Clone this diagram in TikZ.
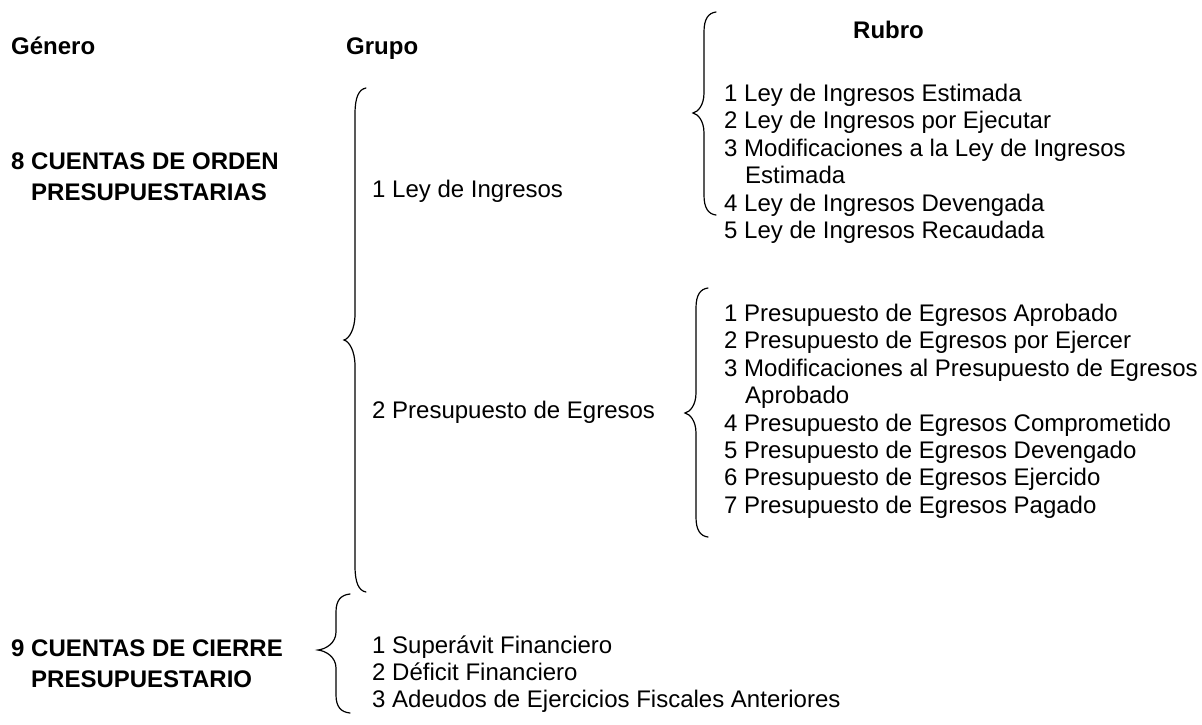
\documentclass[tikz,border=0pt]{standalone}
\usepackage{fontspec}
\setmainfont{Liberation Sans}
% #1 x of ends, #2 x of vertical line, #3 x of tip, #4 y top, #5 y tip, #6 y bottom, #7 hook length
\newcommand\mybrace[7]{%
  \draw[bracel] (#1,#4) .. controls ({#2+0.35*(#1-#2)},{#4+0.05*#7}) and (#2,{#4+0.35*#7}) .. (#2,{#4+#7})
    -- (#2,{#5-#7})
    .. controls (#2,{#5-0.4*#7}) and ({#3+0.45*(#2-#3)},{#5-0.05*#7}) .. (#3,#5)
    .. controls ({#3+0.45*(#2-#3)},{#5+0.05*#7}) and (#2,{#5+0.4*#7}) .. (#2,{#5+#7})
    -- (#2,{#6-#7})
    .. controls (#2,{#6-0.35*#7}) and ({#2+0.35*(#1-#2)},{#6-0.05*#7}) .. (#1,#6);}
\begin{document}
\begin{tikzpicture}[x=1pt,y=-1pt,
  bracel/.style={line width=1.2pt, black, line cap=round},
  txt/.style={anchor=base west, inner sep=0pt, font=\fontsize{24}{28}\selectfont},
  hdr/.style={anchor=base west, inner sep=0pt, font=\fontsize{24}{28}\selectfont\bfseries}]
\useasboundingbox[fill=white] (0,0) rectangle (1202,724);

% headers
\node[hdr] (genero) at (11,54.5) {Género};
\node[hdr] (grupo) at (346,54.5) {Grupo};
\node[hdr] (rubro) at (853,38.5) {Rubro};

% generos
\node[hdr] (g8a) at (11,169.5) {8 CUENTAS DE ORDEN};
\node[hdr] (g8b) at (31,200.5) {PRESUPUESTARIAS};
\node[hdr] (g9a) at (11,656.5) {9 CUENTAS DE CIERRE};
\node[hdr] (g9b) at (31,687) {PRESUPUESTARIO};

% grupos
\node[txt] (gr1) at (372,197.5) {1 Ley de Ingresos};
\node[txt] (gr2) at (372,418.5) {2 Presupuesto de Egresos};

% rubros ley de ingresos
\node[txt] (r11) at (724,101.5) {1 Ley de Ingresos Estimada};
\node[txt] (r12) at (724,128.9) {2 Ley de Ingresos por Ejecutar};
\node[txt] (r13) at (724,156.3) {3 Modificaciones a la Ley de Ingresos};
\node[txt] (r13b) at (745,183.7) {Estimada};
\node[txt] (r14) at (724,211.1) {4 Ley de Ingresos Devengada};
\node[txt] (r15) at (724,238.5) {5 Ley de Ingresos Recaudada};

% rubros presupuesto de egresos
\node[txt] (r21) at (724,321.5) {1 Presupuesto de Egresos Aprobado};
\node[txt] (r22) at (724,348.9) {2 Presupuesto de Egresos por Ejercer};
\node[txt] (r23) at (724,376.3) {3 Modificaciones al Presupuesto de Egresos};
\node[txt] (r23b) at (745,403.7) {Aprobado};
\node[txt] (r24) at (724,431.1) {4 Presupuesto de Egresos Comprometido};
\node[txt] (r25) at (724,458.5) {5 Presupuesto de Egresos Devengado};
\node[txt] (r26) at (724,485.9) {6 Presupuesto de Egresos Ejercido};
\node[txt] (r27) at (724,513.3) {7 Presupuesto de Egresos Pagado};

% rubros cierre
\node[txt] (r31) at (372,653.5) {1 Superávit Financiero};
\node[txt] (r32) at (372,680.5) {2 Déficit Financiero};
\node[txt] (r33) at (372,707.5) {3 Adeudos de Ejercicios Fiscales Anteriores};

% braces
\mybrace{366}{355}{344}{88}{340}{592}{26}
\mybrace{716}{704}{693}{12}{113}{215}{20}
\mybrace{708}{696}{685}{288}{413}{537}{20}
\mybrace{350}{336}{318}{594}{650}{713}{18}
\end{tikzpicture}
\end{document}
